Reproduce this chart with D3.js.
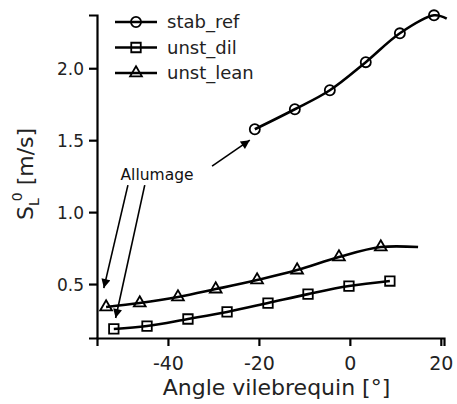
<!DOCTYPE html>
<html>
<head>
<meta charset="utf-8">
<script src="https://cdn.jsdelivr.net/npm/d3@7"></script>
<style>
  html, body { margin: 0; padding: 0; background: #fff; }
  svg { display: block; font-family: "DejaVu Sans", Verdana, sans-serif; }
</style>
</head>
<body>
<svg id="chart" width="457" height="404"></svg>
<script>
// Laminar flame speed versus crank angle for three operating points
const seriesNames = ["stab_ref", "unst_dil", "unst_lean"];

const stabRefAngle = [-20.9, -12.1, -4.4, 3.5, 11.0, 18.5];
const stabRefSpeed = [1.576, 1.715, 1.847, 2.042, 2.243, 2.368];

const unstDilAngle = [-51.9, -44.6, -35.6, -27.0, -18.0, -9.2, -0.2, 8.8];
const unstDilSpeed = [0.188, 0.208, 0.257, 0.306, 0.368, 0.430, 0.486, 0.521];

const unstLeanAngle = [-53.6, -46.2, -37.8, -29.5, -20.4, -11.6, -2.4, 6.8];
const unstLeanSpeed = [0.340, 0.368, 0.410, 0.465, 0.528, 0.597, 0.688, 0.757];

// Fitted curves run a little past the last measured point
const stabRefTail = [21.3, 2.345];
const unstLeanTail = [15.0, 0.757];

const xTicks = [-40, -20, 0, 20];
const yTicks = [0.5, 1.0, 1.5, 2.0];

const xDomain = [-55.6, 20.7];
const yDomain = [0.125, 2.37];

// Annotation arrows (data units): [x0, y0, x1, y1]
const ignitionLabel = "Allumage";
const ignitionLabelAt = [-42.4, 1.223];
const arrows = [
  [-30.3, 1.32, -22.0, 1.50],
  [-48.8, 1.188, -54.1, 0.472],
  [-45.1, 1.188, -51.5, 0.264]
];

const svg = d3.select("#chart");

const x = d3.scaleLinear().domain(xDomain).range([97, 444]);
const y = d3.scaleLinear().domain(yDomain).range([338, 15]);

svg.append("defs").append("marker")
  .attr("id", "arrowhead")
  .attr("viewBox", "0 0 10 10")
  .attr("refX", 10).attr("refY", 5)
  .attr("markerWidth", 11).attr("markerHeight", 9)
  .attr("markerUnits", "userSpaceOnUse")
  .attr("orient", "auto")
  .append("path")
  .attr("d", "M0,0 L10,5 L0,10 Z")
  .attr("fill", "#000");

// Axes
const xAxis = svg.append("g")
  .attr("transform", `translate(0,${y.range()[0]})`)
  .call(d3.axisBottom(x).tickValues(xTicks).tickFormat(d => String(d))
    .tickSizeOuter(0).tickSize(8).tickPadding(11));
const yAxis = svg.append("g")
  .attr("transform", `translate(${x.range()[0]},0)`)
  .call(d3.axisLeft(y).tickValues(yTicks).tickFormat(d3.format(".1f"))
    .tickSizeOuter(0).tickSize(8).tickPadding(5));

[xAxis, yAxis].forEach(g => {
  g.select(".domain").attr("stroke-width", 2.2).attr("stroke", "#000");
  g.selectAll(".tick line").attr("stroke-width", 2.2).attr("stroke", "#000");
  g.selectAll("text").attr("fill", "#222").attr("font-family", "DejaVu Sans, sans-serif");
});
xAxis.selectAll("text").attr("font-size", 19);
yAxis.selectAll("text").attr("font-size", 17).attr("dy", "0.36em");

// Axis titles
svg.append("text")
  .attr("x", (x.range()[0] + x.range()[1]) / 2 + 6)
  .attr("y", 395)
  .attr("text-anchor", "middle")
  .attr("font-size", 22)
  .attr("fill", "#222")
  .text("Angle vilebrequin [°]");

const yTitle = svg.append("text")
  .attr("transform", "translate(33,220) rotate(-90)")
  .attr("font-size", 22)
  .attr("fill", "#222");
yTitle.append("tspan").text("S");
yTitle.append("tspan").attr("font-size", 14).attr("dy", 6).text("L");
yTitle.append("tspan").attr("font-size", 14).attr("dx", -3).attr("dy", -17).text("0");
yTitle.append("tspan").attr("dy", 11).text(" [m/s]");

// Curves
const line = d3.line().x(d => x(d[0])).y(d => y(d[1])).curve(d3.curveCatmullRom.alpha(0.5));

const stabPts = d3.zip(stabRefAngle, stabRefSpeed);
const dilPts = d3.zip(unstDilAngle, unstDilSpeed);
const leanPts = d3.zip(unstLeanAngle, unstLeanSpeed);

const series = [
  { name: seriesNames[0], pts: stabPts, curve: stabPts.concat([stabRefTail]), sym: d3.symbolCircle, size: 80 },
  { name: seriesNames[1], pts: dilPts, curve: dilPts, sym: d3.symbolSquare, size: 90 },
  { name: seriesNames[2], pts: leanPts, curve: leanPts.concat([unstLeanTail]), sym: d3.symbolTriangle, size: 60 }
];

series.forEach(s => {
  svg.append("path")
    .datum(s.curve)
    .attr("d", line)
    .attr("fill", "none")
    .attr("stroke", "#000")
    .attr("stroke-width", 2.6);
  svg.append("g").selectAll("path")
    .data(s.pts)
    .join("path")
    .attr("transform", d => `translate(${x(d[0])},${y(d[1])})`)
    .attr("d", d3.symbol(s.sym, s.size))
    .attr("fill", "none")
    .attr("stroke", "#000")
    .attr("stroke-width", 1.8);
});

// Legend
const legend = svg.append("g");
series.forEach((s, i) => {
  const ly = 22 + i * 25.5;
  legend.append("line")
    .attr("x1", 115).attr("x2", 157).attr("y1", ly).attr("y2", ly)
    .attr("stroke", "#000").attr("stroke-width", 2.4);
  legend.append("path")
    .attr("transform", `translate(136,${ly})`)
    .attr("d", d3.symbol(s.sym, s.size))
    .attr("fill", "none").attr("stroke", "#000").attr("stroke-width", 1.8);
  legend.append("text")
    .attr("x", 167).attr("y", ly)
    .attr("dy", "0.36em")
    .attr("font-size", 18)
    .attr("fill", "#222")
    .text(s.name);
});

// Annotations
svg.append("text")
  .attr("x", x(ignitionLabelAt[0])).attr("y", y(ignitionLabelAt[1]))
  .attr("text-anchor", "middle")
  .attr("font-size", 15.5)
  .attr("fill", "#111")
  .text(ignitionLabel);

svg.append("g").selectAll("line")
  .data(arrows)
  .join("line")
  .attr("x1", d => x(d[0])).attr("y1", d => y(d[1]))
  .attr("x2", d => x(d[2])).attr("y2", d => y(d[3]))
  .attr("stroke", "#000").attr("stroke-width", 1.6)
  .attr("marker-end", "url(#arrowhead)");
</script>
</body>
</html>
